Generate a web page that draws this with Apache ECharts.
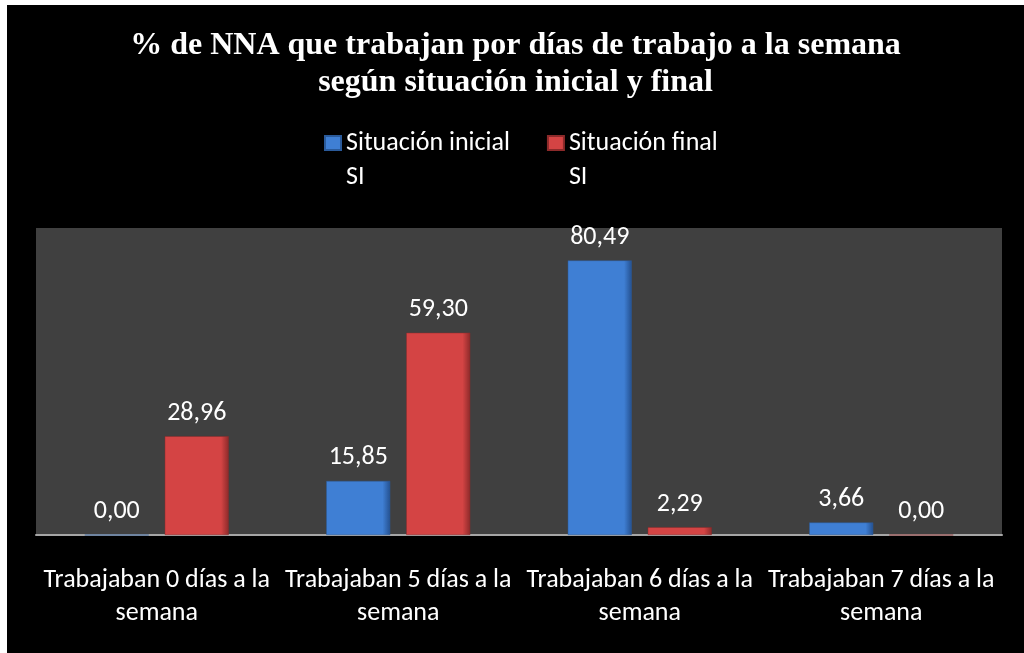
<!DOCTYPE html>
<html>
<head>
<meta charset="utf-8">
<script src="https://cdn.jsdelivr.net/npm/echarts@6/dist/echarts.min.js"></script>
<style>
html,body{margin:0;padding:0;background:#fff;width:1024px;height:653px;overflow:hidden;}
#chart{position:absolute;left:7px;top:5px;width:1017px;height:648px;}
</style>
</head>
<body>
<div id="chart"></div>
<script>
const titleText = '% de NNA que trabajan por días de trabajo a la semana\nsegún situación inicial y final';
const categories = [
  'Trabajaban 0 días a la\nsemana',
  'Trabajaban 5 días a la\nsemana',
  'Trabajaban 6 días a la\nsemana',
  'Trabajaban 7 días a la\nsemana'
];
const seriesNames = ['Situación inicial\nSI', 'Situación final\nSI'];
const inicial = [0.00, 15.85, 80.49, 3.66];
const final = [28.96, 59.30, 2.29, 0.00];

const font = "Carlito, 'Open Sans', sans-serif";

function barColor(main, dark) {
  return {
    type: 'linear', x: 0, y: 0, x2: 1, y2: 0,
    colorStops: [
      {offset: 0, color: main},
      {offset: 0.88, color: main},
      {offset: 1, color: dark}
    ]
  };
}

const chart = echarts.init(document.getElementById('chart'));
const labelCfg = {
  show: true,
  position: 'top',
  distance: 10,
  color: '#ffffff',
  fontFamily: font,
  fontSize: 26,
  formatter: p => p.value.toFixed(2).replace('.', ',')
};
chart.setOption({
  backgroundColor: '#000000',
  animation: false,
  title: {
    text: titleText,
    left: 'center',
    top: 17,
    textStyle: {
      color: '#ffffff',
      fontFamily: "'Liberation Serif', 'Times New Roman', serif",
      fontWeight: 'bold',
      fontSize: 32,
      lineHeight: 37
    }
  },
  legend: {
    data: seriesNames,
    left: 312,
    top: 82,
    icon: 'rect',
    itemWidth: 16,
    itemHeight: 14,
    itemGap: 37,
    formatter: name => '\n' + name,
    textStyle: {
      color: '#ffffff',
      fontFamily: font,
      fontSize: 26,
      lineHeight: 34
    }
  },
  grid: {
    left: 29,
    right: 22,
    top: 223,
    bottom: 118,
    show: true,
    backgroundColor: '#404040',
    borderWidth: 0,
    containLabel: false
  },
  xAxis: {
    type: 'category',
    data: categories,
    axisLine: {show: true, lineStyle: {color: '#a6a6a6', width: 2}},
    axisTick: {show: false},
    axisLabel: {
      interval: 0,
      color: '#ffffff',
      fontFamily: font,
      fontSize: 26,
      lineHeight: 33,
      margin: 29
    }
  },
  yAxis: {
    type: 'value',
    min: 0,
    max: 90,
    show: false,
    splitLine: {show: false}
  },
  series: [
    {
      name: seriesNames[0],
      type: 'bar',
      data: inicial,
      barWidth: 64,
      barGap: '25%',
      itemStyle: {color: barColor('#3f7fd4', '#24508f'), borderColor: '#2a5a9a', borderWidth: 0.5},
      label: labelCfg
    },
    {
      name: seriesNames[1],
      type: 'bar',
      data: final,
      barWidth: 64,
      barGap: '25%',
      itemStyle: {color: barColor('#d44444', '#8c2a2a'), borderColor: '#8c2a2a', borderWidth: 0.5},
      label: labelCfg
    }
  ]
});
</script>
</body>
</html>
